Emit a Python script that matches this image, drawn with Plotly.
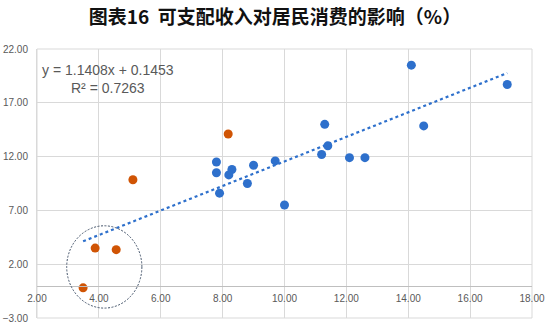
import plotly.graph_objects as go

# ---- data ----
blue_x = [14.1, 17.2, 14.5, 11.3, 11.4, 11.2, 12.1, 12.6, 9.7, 9.0, 7.8, 7.8, 8.3, 8.2, 8.8, 7.9, 10.0]
blue_y = [20.5, 18.7, 14.85, 15.0, 13.0, 12.2, 11.9, 11.9, 11.6, 11.2, 11.5, 10.5, 10.8, 10.3, 9.5, 8.6, 7.5]
orange_x = [8.18, 5.1, 3.88, 4.56, 3.49]
orange_y = [14.1, 9.85, 3.5, 3.35, -0.2]
slope = 1.1408
intercept = 0.1453
r2 = 0.7263
x_ticks = [2, 4, 6, 8, 10, 12, 14, 16, 18]
y_ticks = [-3, 2, 7, 12, 17, 22]
title_text = "图表16  可支配收入对居民消费的影响（%）"

all_x = blue_x + orange_x
tx = [min(all_x), max(all_x)]
ty = [slope * v + intercept for v in tx]

BLUE = "rgb(46,112,204)"
ORANGE = "rgb(208,84,4)"
GRID = "#d9d9d9"
TXT = "#595959"

fig = go.Figure()
fig.add_trace(go.Scatter(x=tx, y=ty, mode="lines",
                         line=dict(color=BLUE, width=2.2, dash="dot"),
                         hoverinfo="skip", showlegend=False))
fig.add_trace(go.Scatter(x=blue_x, y=blue_y, mode="markers",
                         marker=dict(color=BLUE, size=9), showlegend=False))
fig.add_trace(go.Scatter(x=orange_x, y=orange_y, mode="markers",
                         marker=dict(color=ORANGE, size=9), showlegend=False))

fig.add_shape(type="circle", xref="x", yref="y", x0=2.96, x1=5.39, y0=-2.08, y1=5.57,
              line=dict(color="#44546A", width=1, dash="2px,1.5px"))

fig.add_annotation(xref="paper", yref="paper", x=0.144, y=0.888,
                   text=f"y = {slope}x + {intercept}<br>R² = {r2}",
                   showarrow=False, align="center", xanchor="center", yanchor="middle",
                   font=dict(size=14, color=TXT, family="Liberation Sans"))

y0_frac = (0 - y_ticks[0]) / (y_ticks[-1] - y_ticks[0])

fig.update_layout(
    width=550, height=333,
    margin=dict(l=37, r=18, t=49, b=15),
    paper_bgcolor="white", plot_bgcolor="white",
    title=dict(text=f"<b>{title_text}</b>", x=0.5, xanchor="center", y=0.949, yanchor="middle",
               font=dict(size=19, color="#111111", family="Noto Sans CJK SC")),
    font=dict(family="Liberation Sans", size=10, color=TXT),
    xaxis=dict(range=[x_ticks[0], x_ticks[-1]], tickvals=x_ticks, tickformat=".2f",
               showgrid=True, gridcolor=GRID, gridwidth=1, zeroline=False, automargin=False,
               anchor="free", position=y0_frac, showline=True, linecolor="#bfbfbf",
               linewidth=1, ticks="", tickfont=dict(size=10, color=TXT),
               ticklabelstandoff=3),
    yaxis=dict(range=[y_ticks[0], y_ticks[-1]], tickvals=y_ticks, tickformat=".2f",
               showgrid=True, gridcolor=GRID, gridwidth=1, zeroline=False, automargin=False,
               showline=True, linecolor=GRID, ticks="", tickfont=dict(size=10, color=TXT),
               ticklabelstandoff=6),
)
fig.add_shape(type="rect", xref="paper", yref="paper", x0=0, x1=1, y0=0, y1=1,
              line=dict(color=GRID, width=1), layer="below")

fig.write_html("out.html")
